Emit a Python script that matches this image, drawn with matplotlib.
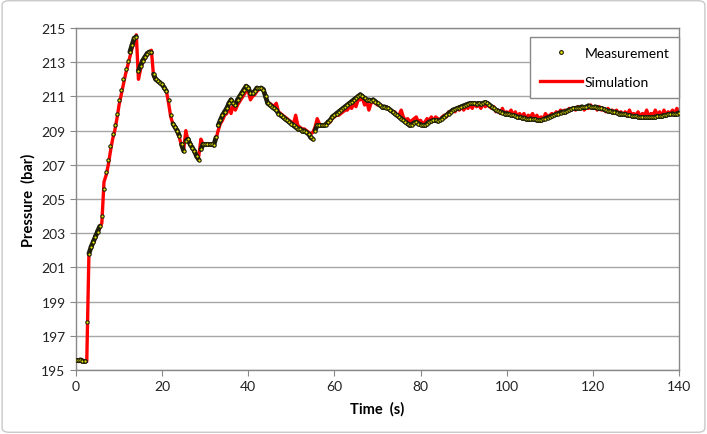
import numpy as np
import matplotlib
matplotlib.use("Agg")
import matplotlib.pyplot as plt
from matplotlib.patches import FancyBboxPatch
from matplotlib.collections import LineCollection

plt.rcParams['font.family'] = ['Lato', 'DejaVu Sans']

# ---- data (time step 0.5 s) ----
time_s = np.arange(0, 140.01, 0.5)

measurement = [
    195.6, 195.6, 195.6, 195.55, 195.55, 197.8, 201.8, 202.2, 202.5, 202.8,
    203.1, 203.4, 204.0, 205.6, 206.6, 207.3, 208.1, 208.8, 209.3, 210.0,
    210.8, 211.4, 212.0, 212.6, 213.1, 213.6, 214.0, 214.4, 214.5, 212.5,
    212.8, 213.1, 213.3, 213.5, 213.6, 213.6, 212.3, 212.0, 211.9, 211.8,
    211.7, 211.5, 211.3, 210.8, 209.9, 209.4, 209.2, 209.0, 208.7, 208.2,
    207.8, 208.4, 208.5, 208.2, 208.0, 207.8, 207.5, 207.3, 207.9, 208.2,
    208.2, 208.2, 208.2, 208.2, 208.15, 208.6, 209.3, 209.6, 209.9, 210.1,
    210.3, 210.6, 210.8, 210.6, 210.5, 210.8, 211.0, 211.2, 211.4, 211.6,
    211.5, 211.2, 211.2, 211.3, 211.5, 211.5, 211.5, 211.4, 211.0, 210.6,
    210.5, 210.4, 210.3, 210.2, 210.0, 209.9, 209.8, 209.7, 209.6, 209.5,
    209.4, 209.3, 209.2, 209.1, 209.1, 209.0, 209.0, 208.9, 208.8, 208.6,
    208.5, 209.0, 209.3, 209.3, 209.3, 209.3, 209.35, 209.5, 209.6, 209.8,
    209.9, 210.0, 210.1, 210.2, 210.3, 210.4, 210.5, 210.6, 210.7, 210.8,
    210.9, 211.0, 211.1, 211.0, 210.9, 210.8, 210.8, 210.75, 210.8, 210.7,
    210.6, 210.5, 210.4, 210.4, 210.35, 210.3, 210.2, 210.1, 210.0, 209.9,
    209.8, 209.7, 209.6, 209.5, 209.4, 209.3, 209.35, 209.45, 209.5, 209.4,
    209.35, 209.3, 209.3, 209.4, 209.5, 209.55, 209.6, 209.6, 209.55, 209.6,
    209.7, 209.8, 209.9, 210.0, 210.1, 210.2, 210.25, 210.3, 210.35, 210.4,
    210.45, 210.5, 210.55, 210.6, 210.6, 210.6, 210.55, 210.6, 210.55, 210.6,
    210.65, 210.6, 210.5, 210.4, 210.3, 210.2, 210.15, 210.1, 210.05, 210.0,
    210.0, 209.95, 209.9, 209.9, 209.85, 209.8, 209.8, 209.75, 209.75, 209.7,
    209.7, 209.7, 209.65, 209.65, 209.6, 209.6, 209.6, 209.65, 209.7, 209.75,
    209.8, 209.85, 209.9, 209.95, 210.0, 210.05, 210.1, 210.1, 210.15, 210.2,
    210.25, 210.3, 210.3, 210.35, 210.35, 210.4, 210.4, 210.4, 210.45, 210.4,
    210.4, 210.4, 210.35, 210.3, 210.3, 210.25, 210.2, 210.15, 210.15, 210.1,
    210.1, 210.05, 210.0, 210.0, 209.95, 209.95, 209.9, 209.9, 209.85, 209.85,
    209.85, 209.8, 209.8, 209.8, 209.8, 209.8, 209.8, 209.8, 209.8, 209.8,
    209.85, 209.85, 209.85, 209.9, 209.9, 209.95, 209.95, 210.0, 210.0, 210.0,
    210.05,
]

simulation = [
    195.55, 195.5, 195.5, 195.5, 195.5, 195.5, 201.8, 202.1, 202.4, 202.7,
    203.0, 203.3, 203.6, 206.0, 206.4, 207.0, 207.8, 208.5, 209.0, 209.7,
    210.5, 211.1, 211.7, 212.3, 212.8, 213.3, 213.8, 214.2, 214.6, 212.0,
    212.6, 213.0, 213.2, 213.4, 213.6, 213.7, 212.2, 212.0, 211.9, 211.8,
    211.7, 211.5, 211.3, 210.6, 209.8, 209.4, 209.2, 208.9, 208.6, 208.1,
    207.9, 209.0, 208.4, 208.3, 208.0, 207.8, 207.6, 207.5, 208.5, 208.2,
    208.2, 208.2, 208.2, 208.2, 208.2, 208.5, 209.0, 209.4, 209.6, 209.9,
    210.0, 210.4, 210.0, 210.5, 210.2, 210.5, 210.7, 210.9, 211.1, 211.3,
    211.3, 210.8, 211.0, 211.1, 211.3, 211.4, 211.5, 211.4, 211.0, 210.6,
    210.6, 210.5, 210.4, 210.6, 210.1, 210.0, 209.9, 209.8, 209.7, 209.6,
    209.5, 209.4, 209.9, 209.3, 209.2, 209.1, 209.1, 209.0, 208.9, 208.8,
    208.9, 209.2, 209.7, 209.4, 209.3, 209.3, 209.4, 209.4, 209.5, 209.7,
    209.8, 209.9, 209.9, 210.0, 210.1, 210.2, 210.2, 210.4, 210.3, 210.6,
    210.4, 210.8, 210.8, 210.9, 210.5, 210.7, 210.2, 210.6, 210.7, 210.6,
    210.5, 210.5, 210.4, 210.3, 210.4, 210.3, 210.2, 210.1, 210.1, 209.9,
    209.9, 210.2, 209.8, 209.6, 209.7, 209.5, 209.6, 209.7, 209.8, 209.5,
    209.6, 209.4, 209.5, 209.7, 209.6, 209.8, 209.6, 209.8, 209.7, 209.6,
    209.8, 209.9, 209.8, 210.1, 210.0, 210.2, 210.1, 210.3, 210.2, 210.4,
    210.2, 210.4, 210.3, 210.5, 210.3, 210.6, 210.4, 210.5, 210.3, 210.6,
    210.4, 210.5, 210.4, 210.3, 210.4, 210.1, 210.2, 210.0, 210.3, 210.0,
    210.1, 210.0, 210.2, 209.9, 210.1, 209.8, 210.0, 209.8, 210.0, 209.7,
    209.9, 209.8, 210.0, 209.7, 209.9, 209.7, 209.8, 209.7, 210.0, 209.8,
    209.9, 210.0, 209.9, 210.1, 210.0, 210.2, 210.1, 210.2, 210.1, 210.3,
    210.2, 210.3, 210.2, 210.4, 210.3, 210.4, 210.2, 210.4, 210.3, 210.5,
    210.3, 210.4, 210.2, 210.4, 210.2, 210.3, 210.1, 210.3, 210.1, 210.2,
    210.0, 210.2, 210.0, 210.1, 209.9, 210.1, 209.9, 210.2, 209.9, 210.0,
    209.9, 210.1, 209.8, 210.0, 209.9, 210.2, 209.8, 210.0, 209.9, 210.2,
    209.9, 210.1, 209.8, 210.2, 209.9, 210.1, 210.0, 210.2, 210.0, 210.3,
    210.1,
]

x_ticks = [0, 20, 40, 60, 80, 100, 120, 140]
y_ticks = [195, 197, 199, 201, 203, 205, 207, 209, 211, 213, 215]

# ---- figure ----
fig = plt.figure(figsize=(7.07, 4.35), dpi=100)
fig.patch.set_facecolor('white')
border = FancyBboxPatch((0.003, 0.004), 0.994, 0.992, boxstyle="round,pad=0,rounding_size=0.01",
                        transform=fig.transFigure, facecolor='none', edgecolor='#c8c8c8',
                        linewidth=1.0)
fig.patches.append(border)

ax = fig.add_axes([0.1075, 0.1471, 0.8529, 0.7862])

ax.plot(time_s, simulation, color='#ff0000', linewidth=2.4, zorder=2)

# dense overlapping measurement markers appear as a dark band where samples are close
pts = np.column_stack([time_s, np.asarray(measurement)])
segs = np.stack([pts[:-1], pts[1:]], axis=1)
close = np.abs(np.diff(np.asarray(measurement))) <= 0.45
band = LineCollection(segs[close], colors='#1e1e0a', linewidths=3.4, zorder=3,
                      capstyle='round')
ax.add_collection(band)
ax.plot(time_s, measurement, linestyle='none', marker='o', markersize=2.4,
        markerfacecolor='#e6e600', markeredgecolor='#1e1e0a', markeredgewidth=0.8,
        zorder=4)

ax.set_xlim(0, 140)
ax.set_ylim(195, 215)
ax.set_xticks(x_ticks)
ax.set_yticks(y_ticks)
ax.grid(axis='y', color='#a6a6a6', linewidth=1.0)
ax.set_axisbelow(True)

for side in ['left', 'bottom', 'top', 'right']:
    ax.spines[side].set_color('#888888')
    ax.spines[side].set_linewidth(1.0)

ax.tick_params(axis='both', direction='out', length=4, color='#888888',
               labelsize=10, labelcolor='#222222')

ax.set_xlabel('Time  (s)', fontsize=10.5, fontweight='bold', labelpad=6)
ax.set_ylabel('Pressure  (bar)', fontsize=10.5, fontweight='bold', labelpad=4)

meas_handle = plt.Line2D([], [], linestyle='none', marker='o', markersize=2.7,
                         markerfacecolor='#e6e600', markeredgecolor='#1e1e0a',
                         markeredgewidth=0.8)
sim_handle = plt.Line2D([], [], color='#ff0000', linewidth=2.4)
leg = ax.legend([meas_handle, sim_handle], ['Measurement', 'Simulation'], loc='upper right',
                bbox_to_anchor=(1.0, 1.0 - 9 / 342), fontsize=10,
                frameon=True, fancybox=False, edgecolor='#888888', framealpha=1,
                handlelength=3.0, handletextpad=0.2, borderpad=0.7, labelspacing=1.25,
                borderaxespad=0.0)
leg.get_frame().set_linewidth(1.0)

fig.savefig('out.png', dpi=100)
